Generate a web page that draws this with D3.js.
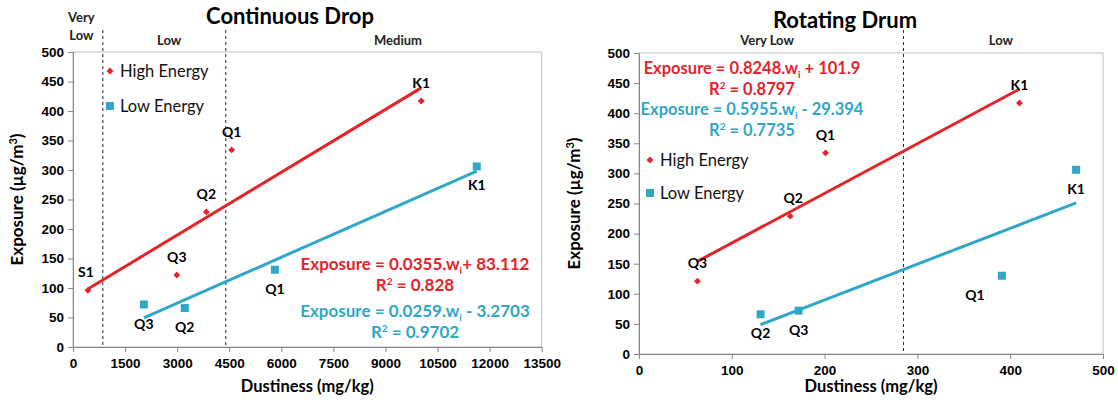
<!DOCTYPE html>
<html>
<head>
<meta charset="utf-8">
<script src="https://cdn.jsdelivr.net/npm/d3@7"></script>
<style>
  body { margin: 0; background: #fff; }
  svg { display: block; font-family: Lato, "Open Sans", sans-serif; }
  .tick text { font-size: 13.5px; font-weight: bold; fill: #000; }
  .domain, .tick line { stroke: #868686; }
</style>
</head>
<body>
<svg id="chart" width="1118" height="400"></svg>
<script>
// Continuous Drop
const cdHighNames = ["S1", "Q3", "Q2", "Q1", "K1"];
const cdHighX = [430, 2990, 3840, 4570, 10030];
const cdHighY = [96, 122, 229, 334, 417];
const cdLowNames = ["Q3", "Q2", "Q1", "K1"];
const cdLowX = [2040, 3220, 5815, 11630];
const cdLowY = [72, 66, 131, 306];
const cdFitHigh = [0.0355, 83.112];
const cdFitLow = [0.0259, -3.2703];
const cdBounds = [860, 4400];
const cdCats = ["Very Low", "Low", "Medium"];
const cdCatX = [240, 2770, 9360];
const cdXTicks = d3.range(0, 13501, 1500);

// Rotating Drum
const rdHighNames = ["Q3", "Q2", "Q1", "K1"];
const rdHighX = [63, 163, 201, 410];
const rdHighY = [121, 229, 334, 417];
const rdLowNames = ["Q2", "Q3", "Q1", "K1"];
const rdLowX = [131, 172, 391, 471];
const rdLowY = [66, 72, 130, 306];
const rdFitHigh = [0.8248, 101.9];
const rdFitLow = [0.5955, -29.394];
const rdBounds = [285];
const rdCats = ["Very Low", "Low"];
const rdCatX = [138, 390];
const rdXTicks = d3.range(0, 501, 100);

const yTicks = d3.range(0, 501, 50);
const red = "#e3242b";
const blue = "#31a7c7";

const svg = d3.select("#chart");

function drawPanel(o) {
    const x = d3.scaleLinear().domain([0, o.xMax]).range([o.left, o.right]);
    const y = d3.scaleLinear().domain([0, 500]).range([o.bottom, o.top]);
    const g = svg.append("g");

    // plot border
    g.append("rect")
        .attr("x", o.left).attr("y", o.top)
        .attr("width", o.right - o.left).attr("height", o.bottom - o.top)
        .attr("fill", "none").attr("stroke", "#bfbfbf");

    g.append("g")
        .attr("transform", `translate(0,${o.bottom})`)
        .call(d3.axisBottom(x).tickValues(o.xTicks).tickFormat(d3.format("d"))
            .tickSize(5).tickSizeOuter(0).tickPadding(6));
    g.append("g")
        .attr("transform", `translate(${o.left},0)`)
        .call(d3.axisLeft(y).tickValues(yTicks).tickSize(5).tickSizeOuter(0).tickPadding(4));

    // category boundaries
    g.selectAll(".bound").data(o.bounds).enter().append("line")
        .attr("x1", d => x(d)).attr("x2", d => x(d))
        .attr("y1", 30).attr("y2", o.bottom)
        .attr("stroke", "#222").attr("stroke-dasharray", "3,3");

    // category labels
    o.cats.forEach((c, i) => {
        const t = g.append("text")
            .attr("x", x(o.catX[i])).attr("text-anchor", "middle")
            .attr("font-size", 13).attr("font-weight", "bold").attr("fill", "#222");
        if (o.twoLine && i === 0) {
            c.split(" ").forEach((w, j) => {
                t.append("tspan").attr("x", x(o.catX[i])).attr("y", 22 + j * 18).text(w);
            });
        } else {
            t.attr("y", 45).text(c);
        }
    });

    // trend lines
    [[o.highX, o.fitHigh, red], [o.lowX, o.fitLow, blue]].forEach(([xs, f, col]) => {
        const x0 = d3.min(xs), x1 = d3.max(xs);
        g.append("line")
            .attr("x1", x(x0)).attr("y1", y(f[0] * x0 + f[1]))
            .attr("x2", x(x1)).attr("y2", y(f[0] * x1 + f[1]))
            .attr("stroke", col).attr("stroke-width", 3);
    });

    // high energy diamonds
    g.selectAll(".hi").data(o.highX).enter().append("path")
        .attr("d", d3.symbol(d3.symbolDiamond2, 30))
        .attr("transform", (d, i) => `translate(${x(d)},${y(o.highY[i])})`)
        .attr("fill", red);
    // low energy squares
    g.selectAll(".lo").data(o.lowX).enter().append("rect")
        .attr("x", d => x(d) - 4).attr("y", (d, i) => y(o.lowY[i]) - 4)
        .attr("width", 8).attr("height", 8)
        .attr("fill", blue);

    // point labels
    g.selectAll(".hiLab").data(o.highNames).enter().append("text")
        .attr("x", (d, i) => x(o.highX[i]) + (o.highDx[i] || 0))
        .attr("y", (d, i) => y(o.highY[i]) - 13)
        .attr("text-anchor", "middle").attr("font-size", 14).attr("font-weight", "bold")
        .text(d => d);
    g.selectAll(".loLab").data(o.lowNames).enter().append("text")
        .attr("x", (d, i) => x(o.lowX[i]) + (o.lowDx[i] || 0))
        .attr("y", (d, i) => y(o.lowY[i]) + 24)
        .attr("text-anchor", "middle").attr("font-size", 14).attr("font-weight", "bold")
        .text(d => d);

    // equations
    function equation(lines, cx, y0, col) {
        const t1 = g.append("text").attr("x", cx).attr("y", y0)
            .attr("text-anchor", "middle").attr("font-size", o.eqSize).attr("font-weight", "bold").attr("fill", col);
        t1.append("tspan").text(lines[0]);
        t1.append("tspan").attr("font-size", 10).attr("dy", 4).text("i");
        t1.append("tspan").attr("dy", -4).text(lines[1]);
        const t2 = g.append("text").attr("x", cx).attr("y", y0 + o.r2Gap)
            .attr("text-anchor", "middle").attr("font-size", o.eqSize).attr("font-weight", "bold").attr("fill", col);
        t2.append("tspan").text("R");
        t2.append("tspan").attr("font-size", 10).attr("dy", -6).text("2");
        t2.append("tspan").attr("dy", 6).text(" = " + lines[2]);
    }
    equation(o.eqHigh, o.eqX, o.eqY[0], red);
    equation(o.eqLow, o.eqX, o.eqY[1], blue);

    // legend
    g.append("path").attr("d", d3.symbol(d3.symbolDiamond2, 30))
        .attr("transform", `translate(${o.legX},${o.legY[0]})`).attr("fill", red);
    g.append("rect").attr("x", o.legX - 4).attr("y", o.legY[1] - 4)
        .attr("width", 8).attr("height", 8).attr("fill", blue);
    ["High Energy", "Low Energy"].forEach((s, i) => {
        g.append("text").attr("x", o.legX + 10).attr("y", o.legY[i] + 6)
            .attr("font-size", 16.5).attr("fill", "#111").text(s);
    });

    // titles
    g.append("text").attr("x", o.titleX).attr("y", o.titleY)
        .attr("text-anchor", "middle").attr("font-size", 22).attr("font-weight", "bold")
        .text(o.title);
    g.append("text").attr("x", (o.left + o.right) / 2).attr("y", 392)
        .attr("text-anchor", "middle").attr("font-size", 16.5).attr("font-weight", "bold")
        .text("Dustiness (mg/kg)");
    const yt = g.append("text")
        .attr("transform", `translate(${o.yTitleX},${(o.top + o.bottom) / 2}) rotate(-90)`)
        .attr("text-anchor", "middle").attr("font-size", 17).attr("font-weight", "bold");
    yt.append("tspan").text("Exposure (µg/m");
    yt.append("tspan").attr("font-size", 11).attr("dy", -6).text("3");
    yt.append("tspan").attr("dy", 6).text(")");
}

drawPanel({
    left: 73, right: 541.7, top: 52, bottom: 347, xMax: 13500, xTicks: cdXTicks,
    highX: cdHighX, highY: cdHighY, highNames: cdHighNames, highDx: [-2, 0, 0, 0, 0],
    lowX: cdLowX, lowY: cdLowY, lowNames: cdLowNames, lowDx: [],
    fitHigh: cdFitHigh, fitLow: cdFitLow,
    bounds: cdBounds, cats: cdCats, catX: cdCatX, twoLine: true,
    eqHigh: ["Exposure = 0.0355.w", "+ 83.112", "0.828"],
    eqLow: ["Exposure = 0.0259.w", " - 3.2703", "0.9702"],
    eqX: 415, eqY: [270, 317], r2Gap: 21, eqSize: 17,
    legX: 110, legY: [71, 106],
    title: "Continuous Drop", titleX: 290, titleY: 24, yTitleX: 23
});

drawPanel({
    left: 639, right: 1103, top: 53, bottom: 354, xMax: 500, xTicks: rdXTicks,
    highX: rdHighX, highY: rdHighY, highNames: rdHighNames, highDx: [0, 3, 0, 0],
    lowX: rdLowX, lowY: rdLowY, lowNames: rdLowNames, lowDx: [0, 0, -27, 0],
    fitHigh: rdFitHigh, fitLow: rdFitLow,
    bounds: rdBounds, cats: rdCats, catX: rdCatX, twoLine: false,
    eqHigh: ["Exposure = 0.8248.w", " + 101.9", "0.8797"],
    eqLow: ["Exposure = 0.5955.w", " - 29.394", "0.7735"],
    eqX: 752, eqY: [74, 115], r2Gap: 21, eqSize: 16.5,
    legX: 650, legY: [160, 193],
    title: "Rotating Drum", titleX: 845, titleY: 28, yTitleX: 580
});
</script>
</body>
</html>
